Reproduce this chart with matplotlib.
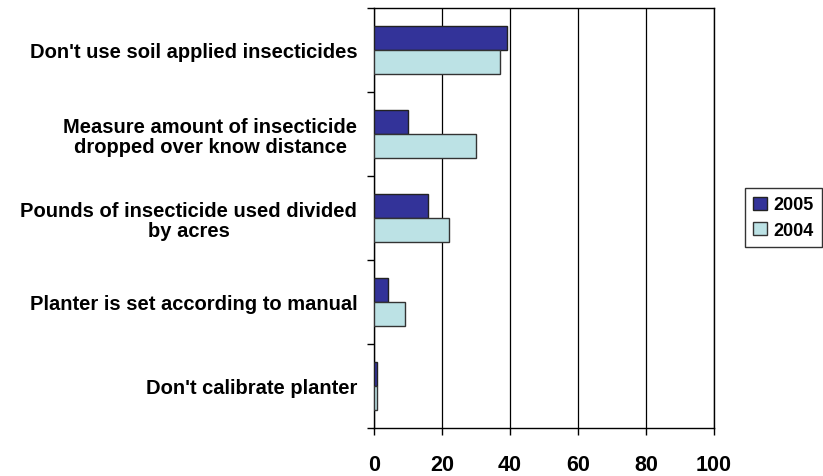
import matplotlib
matplotlib.use("Agg")
import matplotlib.pyplot as plt
import numpy as np

categories = [
    "Don't use soil applied insecticides",
    "Measure amount of insecticide\ndropped over know distance",
    "Pounds of insecticide used divided\nby acres",
    "Planter is set according to manual",
    "Don't calibrate planter",
]
values_2005 = [39, 10, 16, 4, 1]
values_2004 = [37, 30, 22, 9, 1]
series_labels = ["2005", "2004"]
x_ticks = [0, 20, 40, 60, 80, 100]

color_2005 = "#333399"
color_2004 = "#BCE2E5"

plt.rcParams["font.family"] = ["Liberation Sans", "DejaVu Sans"]
plt.rcParams["font.weight"] = "bold"

fig = plt.figure(figsize=(8.23, 4.77), dpi=100)
ax = fig.add_axes([374 / 823, 1 - 429 / 477, 340 / 823, 420 / 477])

n = len(categories)
pos = np.arange(n)
h = 1 / 3.5

ax.barh(pos - h / 2, values_2005, height=h, color=color_2005,
        edgecolor="#222222", linewidth=1.0, label=series_labels[0], zorder=3)
ax.barh(pos + h / 2, values_2004, height=h, color=color_2004,
        edgecolor="#333333", linewidth=1.0, label=series_labels[1], zorder=3)

ax.set_xlim(0, 100)
ax.set_ylim(n - 0.5, -0.5)

ax.set_xticks(x_ticks)
ax.set_xticklabels([str(t) for t in x_ticks], fontsize=15.5, fontweight="bold")
ax.tick_params(axis="x", direction="out", length=5, width=1, pad=13.5, color="black")

# category boundaries carry tick marks; labels sit at category centres
ax.set_yticks(np.arange(-0.5, n, 1.0))
ax.set_yticklabels([])
ax.tick_params(axis="y", which="major", direction="out", length=5, width=1)
ax.set_yticks(pos, minor=True)
ax.set_yticklabels(categories, minor=True, fontsize=14.5, fontweight="bold",
                   multialignment="center", linespacing=1.05)
ax.tick_params(axis="y", which="minor", length=0, pad=12)

ax.xaxis.grid(True, color="black", linewidth=0.9, zorder=0)
ax.set_axisbelow(True)

for side in ["left", "bottom", "top", "right"]:
    ax.spines[side].set_color("black")
    ax.spines[side].set_linewidth(1.0)

leg = fig.legend(loc="center", bbox_to_anchor=(783.5 / 823, 1 - 218.5 / 477),
                 bbox_transform=fig.transFigure, frameon=True, fancybox=False,
                 edgecolor="black", prop={"size": 13, "weight": "bold"},
                 handlelength=0.75, handleheight=0.75, handletextpad=0.35,
                 borderpad=0.45, labelspacing=0.45, borderaxespad=0)
leg.get_frame().set_linewidth(1.0)

fig.savefig("out.png", dpi=100)
